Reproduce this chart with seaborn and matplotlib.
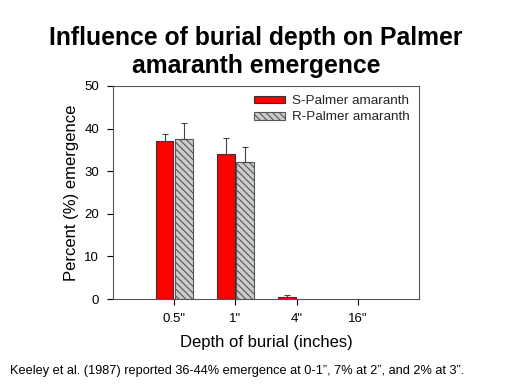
import matplotlib
matplotlib.use('Agg')
import matplotlib.pyplot as plt
from matplotlib.patches import Patch
import numpy as np
import pandas as pd
import seaborn as sns

depths = ['0.5"', '1"', '4"', '16"']
s_palmer = [37.1, 34.0, 0.5, 0.0]
s_err = [1.6, 3.7, 0.4, 0.0]
r_palmer = [37.5, 32.1, 0.0, 0.0]
r_err = [3.7, 3.5, 0.0, 0.0]
series = ['S-Palmer amaranth', 'R-Palmer amaranth']

df = pd.DataFrame({
    'depth': depths * 2,
    'value': s_palmer + r_palmer,
    'type': [series[0]] * 4 + [series[1]] * 4,
})

sns.set_style('white')
plt.rcParams['font.family'] = ['Liberation Sans', 'DejaVu Sans']
plt.rcParams['hatch.linewidth'] = 0.8

fig = plt.figure(figsize=(5.12, 3.84), dpi=100)
ax = fig.add_axes([113 / 512, 1 - 299 / 384, 306 / 512, 213 / 384])

sns.barplot(data=df, x='depth', y='value', hue='type', order=depths,
            hue_order=series, palette=['#ff0000', '#cccccc'], saturation=1,
            width=0.63, gap=0.08, errorbar=None, legend=False, ax=ax,
            edgecolor='#333333', linewidth=0.8)

# hatch the R series, hide empty bars, add one-sided error bars
for bar in ax.containers[1]:
    bar.set_hatch('\\\\\\\\\\')
    bar.set_edgecolor('#555555')
for cont, err in zip(ax.containers, [s_err, r_err]):
    for b in cont:
        if b.get_height() == 0:
            b.set_visible(False)
    xs = [b.get_x() + b.get_width() / 2 for b in cont]
    hs = [b.get_height() for b in cont]
    keep = [i for i, h in enumerate(hs) if h > 0]
    ax.errorbar([xs[i] for i in keep], [hs[i] for i in keep],
                yerr=[np.zeros(len(keep)), [err[i] for i in keep]], fmt='none',
                ecolor='#444444', elinewidth=0.8, capsize=2.5, capthick=0.8)

ax.set_xlim(-1, 4)
ax.set_ylim(0, 50)
ax.set_yticks([0, 10, 20, 30, 40, 50])
ax.set_xlabel('Depth of burial (inches)', fontsize=12, labelpad=7, color='black')
ax.set_ylabel('Percent (%) emergence', fontsize=12, labelpad=4, color='black')
ax.tick_params(axis='both', labelsize=9.5, colors='black', length=4,
               width=0.8, direction='out', bottom=True, left=True, pad=6)
for sp in ax.spines.values():
    sp.set_color('#555555')
    sp.set_linewidth(0.8)

handles = [Patch(facecolor='#ff0000', edgecolor='#333333', linewidth=0.8),
           Patch(facecolor='#cccccc', edgecolor='#555555', linewidth=0.8,
                 hatch='\\\\\\\\\\')]
ax.legend(handles, series, loc='upper right', frameon=False, fontsize=9.7,
          handlelength=2.3, handleheight=0.5, handletextpad=0.5,
          labelspacing=0.3, borderaxespad=0.3)

fig.text(0.50, 0.933, 'Influence of burial depth on Palmer\namaranth emergence',
         ha='center', va='top', fontsize=17.8, fontweight='bold',
         linespacing=1.25, color='black')
fig.text(0.02, 0.035, 'Keeley et al. (1987) reported 36-44% emergence at 0-1\u201d, '
         '7% at 2\u201d, and 2% at 3\u201d.', fontsize=9.2, ha='left',
         va='center', color='black')

fig.savefig('out.png', dpi=100, facecolor='white')
